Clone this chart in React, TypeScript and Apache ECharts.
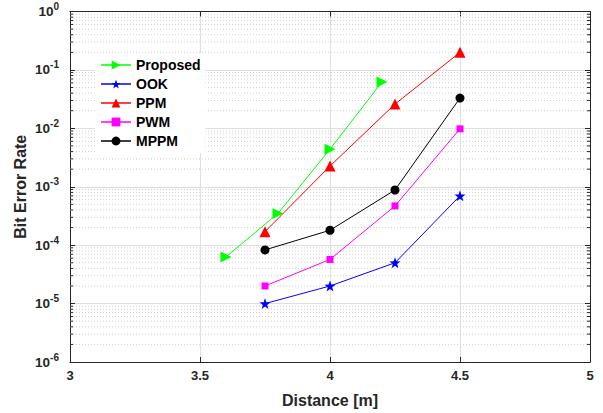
import React, { useEffect, useRef } from 'react';
import * as echarts from 'echarts';

const seriesNames = ['Proposed', 'OOK', 'PPM', 'PWM', 'MPPM'];
const proposedX = [3.6, 3.8, 4.0, 4.2];
const proposedBER = [6.3e-5, 3.5e-4, 4.4e-3, 0.062];
const otherX = [3.75, 4.0, 4.25, 4.5];
const ookBER = [1.0e-5, 2.0e-5, 5.0e-5, 7.0e-4];
const ppmBER = [1.7e-4, 2.26e-3, 0.026, 0.2];
const pwmBER = [2.0e-5, 5.7e-5, 4.7e-4, 0.0098];
const mppmBER = [8.3e-5, 1.8e-4, 8.8e-4, 0.033];
const xMin = 3;
const xMax = 5;
const xInterval = 0.5;
const yMin = 1e-6;
const yMax = 1;
const minorMultipliers = [2, 3, 4, 5, 6, 7, 8, 9];
const decadeExponents = [-6, -5, -4, -3, -2, -1];

const FONT = '"Liberation Sans", Arial, Helvetica, sans-serif';
const AXIS_COLOR = '#262626';

const STAR =
  'path://M0,-1 L0.235,-0.324 L0.951,-0.309 L0.380,0.124 L0.588,0.809 L0,0.4 L-0.588,0.809 L-0.380,0.124 L-0.951,-0.309 L-0.235,-0.324 Z';

const zip = (xs: number[], ys: number[]) => xs.map((x, i) => [x, ys[i]]);

export default function App() {
  const ref = useRef<HTMLDivElement>(null);
  useEffect(() => {
    if (!ref.current) return;
    const chart = echarts.init(ref.current, undefined, { renderer: 'svg' });

    const minorValues: number[][] = [];
    decadeExponents.forEach((e) => {
      minorMultipliers.forEach((m) => {
        minorValues.push([xMin, m * Math.pow(10, e)]);
      });
    });

    const lineSeries = (
      name: string,
      data: number[][],
      color: string,
      symbol: string,
      symbolSize: number,
      symbolRotate = 0
    ) => ({
      name,
      type: 'line',
      data,
      symbol,
      symbolSize,
      symbolRotate,
      showAllSymbol: true,
      lineStyle: { color, width: 1 },
      itemStyle: { color, borderWidth: 0 },
      z: 5,
    });

    const option: any = {
      animation: false,
      backgroundColor: '#ffffff',
      grid: { left: 70, right: 13, top: 11.5, bottom: 51 },
      legend: {
        data: seriesNames,
        orient: 'vertical',
        left: 95,
        top: 53,
        padding: [5, 5, 5, 5],
        itemWidth: 30,
        itemHeight: 11,
        itemGap: 5,
        backgroundColor: '#ffffff',
        lineStyle: { opacity: 0.75 },
        textStyle: { fontFamily: FONT, fontWeight: 'bold', fontSize: 14, color: '#000000' },
      },
      xAxis: [
        {
          type: 'value',
          min: xMin,
          max: xMax,
          interval: xInterval,
          name: 'Distance [m]',
          nameLocation: 'middle',
          nameGap: 30,
          nameMoveOverlap: false,
          nameTextStyle: { fontFamily: FONT, fontWeight: 'bold', fontSize: 16, color: AXIS_COLOR },
          axisLine: { show: true, onZero: false, lineStyle: { color: AXIS_COLOR, width: 1 } },
          axisTick: { show: true, inside: true, length: 5, lineStyle: { color: AXIS_COLOR } },
          axisLabel: {
            margin: 7,
            fontFamily: FONT,
            fontWeight: 'bold',
            fontSize: 13,
            color: AXIS_COLOR,
            formatter: (v: number) => String(v),
          },
          splitLine: { show: true, lineStyle: { color: '#dfdfdf', width: 1 } },
        },
        {
          type: 'value',
          position: 'top',
          min: xMin,
          max: xMax,
          interval: xInterval,
          axisLine: { show: true, onZero: false, lineStyle: { color: AXIS_COLOR, width: 1 } },
          axisTick: { show: true, inside: true, length: 5, lineStyle: { color: AXIS_COLOR } },
          axisLabel: { show: false },
          splitLine: { show: false },
        },
      ],
      yAxis: [
        {
          type: 'log',
          logBase: 10,
          min: yMin,
          max: yMax,
          name: 'Bit Error Rate',
          nameLocation: 'middle',
          nameGap: 42,
          nameMoveOverlap: false,
          nameTextStyle: { fontFamily: FONT, fontWeight: 'bold', fontSize: 16, color: AXIS_COLOR },
          axisLine: { show: true, onZero: false, lineStyle: { color: AXIS_COLOR, width: 1 } },
          axisTick: { show: true, inside: true, length: 5, lineStyle: { color: AXIS_COLOR } },
          axisLabel: {
            margin: 11,
            formatter: (v: number) => {
              const e = Math.round(Math.log10(v));
              return `{b|10}{s|${e}}`;
            },
            rich: {
              b: { fontFamily: FONT, fontWeight: 'bold', fontSize: 13.5, color: AXIS_COLOR },
              s: {
                fontFamily: FONT,
                fontWeight: 'bold',
                fontSize: 10,
                color: AXIS_COLOR,
                padding: [0, 0, 10, 0],
              },
            },
          },
          splitLine: { show: true, lineStyle: { color: '#dfdfdf', width: 1 } },
        },
        {
          type: 'log',
          logBase: 10,
          min: yMin,
          max: yMax,
          position: 'right',
          axisLine: { show: true, onZero: false, lineStyle: { color: AXIS_COLOR, width: 1 } },
          axisTick: { show: true, inside: true, length: 5, lineStyle: { color: AXIS_COLOR } },
          axisLabel: { show: false },
          splitLine: { show: false },
        },
      ],
      series: [
        {
          name: 'minorGrid',
          type: 'custom',
          silent: true,
          z: 1,
          data: minorValues,
          encode: { x: 0, y: 1 },
          renderItem: (params: any, api: any) => {
            const v = api.value(1);
            const p1 = api.coord([xMin, v]);
            const p2 = api.coord([xMax, v]);
            return {
              type: 'group',
              children: [
                {
                  type: 'line',
                  shape: { x1: p1[0], y1: p1[1], x2: p2[0], y2: p2[1] },
                  style: { stroke: '#cfcfcf', lineWidth: 1, lineDash: [1, 2] },
                },
                {
                  type: 'line',
                  shape: { x1: p1[0], y1: p1[1], x2: p1[0] + 3, y2: p1[1] },
                  style: { stroke: AXIS_COLOR, lineWidth: 1 },
                },
                {
                  type: 'line',
                  shape: { x1: p2[0] - 3, y1: p2[1], x2: p2[0], y2: p2[1] },
                  style: { stroke: AXIS_COLOR, lineWidth: 1 },
                },
              ],
            };
          },
        },
        lineSeries('Proposed', zip(proposedX, proposedBER), '#00ff00', 'triangle', 11, -90),
        lineSeries('OOK', zip(otherX, ookBER), '#0000ff', STAR, 11),
        lineSeries('PPM', zip(otherX, ppmBER), '#ff0000', 'triangle', 11),
        lineSeries('PWM', zip(otherX, pwmBER), '#ff00ff', 'rect', 7),
        lineSeries('MPPM', zip(otherX, mppmBER), '#000000', 'circle', 9),
      ],
    };

    chart.setOption(option);
    return () => chart.dispose();
  }, []);

  return <div ref={ref} style={{ width: 603, height: 413, position: 'absolute', left: 0, top: 0 }} />;
}
